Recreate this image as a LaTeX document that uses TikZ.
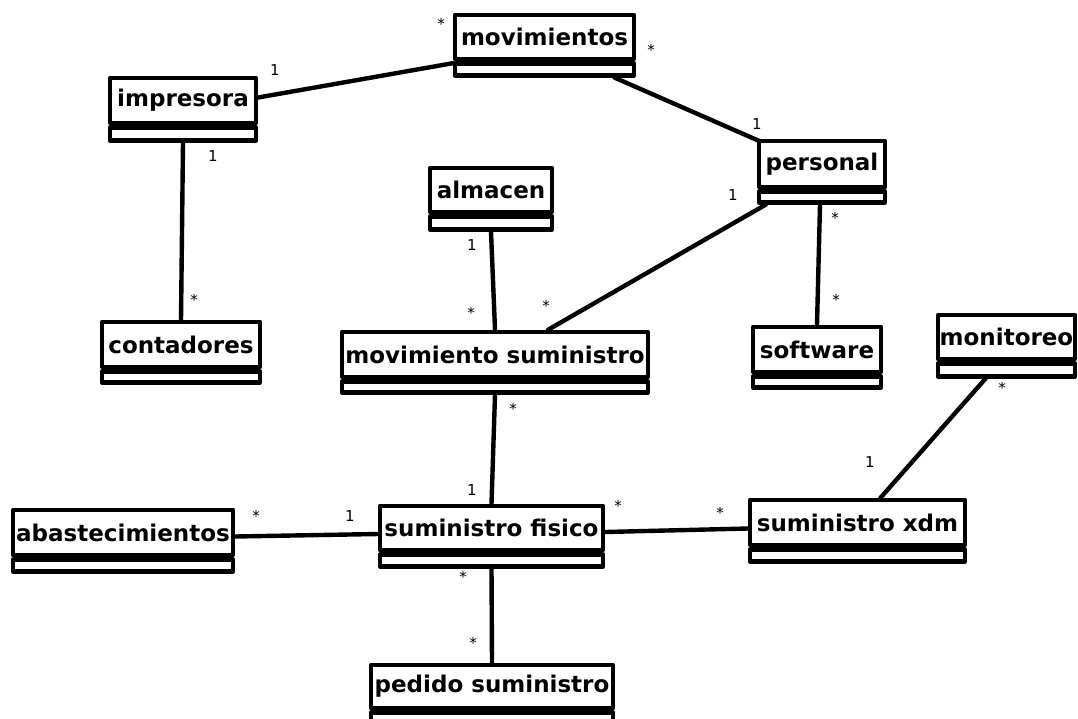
\documentclass[tikz,border=0pt]{standalone}
\usepackage{fontspec}
\setmainfont{DejaVu Sans}
% class box: header with the class name and an empty strip below it
% #1 name, #2 left, #3 top, #4 right, #5 header bottom, #6 strip bottom, #7 label
\newcommand\umlclass[7]{%
  \node[classhead, minimum width={#4-#2}, minimum height={#5-#3}] (#1)
    at ({(#2+#4)/2},{(#3+#5)/2}) {#7};
  \node[classstrip, minimum width={#4-#2}, minimum height={#6-#5}, anchor=north] (#1s)
    at (#1.south) {};
}
\begin{document}
\begin{tikzpicture}[x=1pt, y=-1pt,
  classhead/.style={draw, line width=4.4pt, line join=round, inner sep=0pt,
    font=\bfseries\fontsize{23}{26}\selectfont},
  classstrip/.style={draw, line width=4.4pt, line join=round, inner sep=0pt},
  assoc/.style={line width=4.4pt, line cap=round},
  mult/.style={inner sep=0pt, font=\fontsize{15}{16}\selectfont}]
\useasboundingbox[fill=white] (0,0) rectangle (1078,718);

% classes
\umlclass{mov}{455}{15}{634}{59}{71}{movimientos}
\umlclass{imp}{110}{78}{256}{123}{136}{impresora}
\umlclass{per}{759}{141}{885}{187}{198}{personal}
\umlclass{alm}{430}{168}{552}{212}{225}{almacen}
\umlclass{con}{102}{322}{260}{367}{378}{contadores}
\umlclass{msum}{342}{332}{648}{377}{388}{movimiento suministro}
\umlclass{sof}{753}{327}{881}{372}{383}{software}
\umlclass{mon}{938}{315}{1075}{359}{372}{monitoreo}
\umlclass{aba}{13}{510}{233}{555}{567}{abastecimientos}
\umlclass{sfis}{380}{506}{603}{550}{562}{suministro fisico}
\umlclass{sxdm}{750}{500}{965}{545}{557}{suministro xdm}
\umlclass{ped}{371}{665}{613}{708}{720}{pedido suministro}

% associations
\draw[assoc] ([yshift=3pt]imp.east) -- ([yshift=-2pt]mov.south west);
\draw[assoc] ([xshift=70pt]movs.south) -- ([xshift=2pt,yshift=-2pt]per.north west);
\draw[assoc] (imps.south) -- (con.north);
\draw[assoc] ([xshift=9pt]pers.south west) -- ([xshift=53pt]msum.north);
\draw[assoc] (alms.south) -- (msum.north);
\draw[assoc] ([xshift=-2pt]pers.south) -- (sof.north);
\draw[assoc] (msums.south) -- (sfis.north);
\draw[assoc] ([yshift=-4pt]aba.east) -- ([yshift=-6pt]sfis.west);
\draw[assoc] ([yshift=-4pt]sfis.east) -- ([yshift=-6pt]sxdm.west);
\draw[assoc] ([xshift=-21pt]mons.south) -- ([xshift=23pt]sxdm.north);
\draw[assoc] (sfiss.south) -- (ped.north);

% multiplicities
\node[mult] (m1)  at (275,70)  {1};
\node[mult] (m2)  at (441,24)  {*};
\node[mult] (m3)  at (651,50)  {*};
\node[mult] (m4)  at (757,124) {1};
\node[mult] (m5)  at (213,156) {1};
\node[mult] (m6)  at (194,300) {*};
\node[mult] (m7)  at (733,195) {1};
\node[mult] (m8)  at (472,245) {1};
\node[mult] (m9)  at (471,313) {*};
\node[mult] (m10) at (546,306) {*};
\node[mult] (m11) at (835,218) {*};
\node[mult] (m12) at (836,300) {*};
\node[mult] (m13) at (1002,388) {*};
\node[mult] (m14) at (870,462) {1};
\node[mult] (m15) at (513,409) {*};
\node[mult] (m16) at (472,490) {1};
\node[mult] (m17) at (256,516) {*};
\node[mult] (m18) at (350,516) {1};
\node[mult] (m19) at (618,506) {*};
\node[mult] (m20) at (720,513) {*};
\node[mult] (m21) at (463,577) {*};
\node[mult] (m22) at (473,643) {*};
\end{tikzpicture}
\end{document}
